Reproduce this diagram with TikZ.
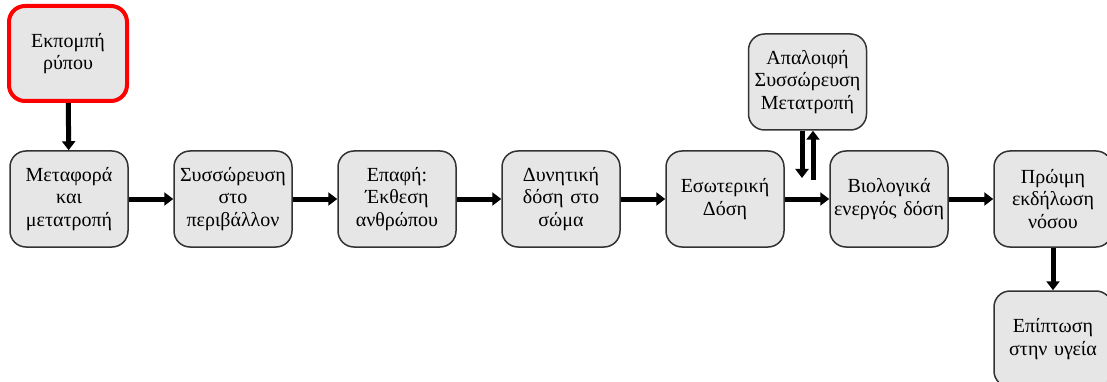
\documentclass[tikz,border=0pt]{standalone}
\usepackage{fontspec}
\setmainfont{Liberation Serif}
\usetikzlibrary{arrows.meta}
\definecolor{boxfill}{HTML}{E6E6E6}
\definecolor{boxline}{HTML}{333333}
\definecolor{alert}{HTML}{FF0000}
\begin{document}
\begin{tikzpicture}[x=1pt,y=-1pt,
  stage/.style={draw=boxline, line width=1.5pt, fill=boxfill, rounded corners=16pt,
    minimum width=118pt, minimum height=96pt, align=center, inner sep=1pt,
    text width=116pt, font=\fontsize{20}{22.5}\selectfont},
  source/.style={stage, draw=alert, line width=4pt, minimum width=116pt, minimum height=95pt},
  flow/.style={line width=5pt, -{Triangle[width=13pt,length=9pt]}}]
\useasboundingbox (0,0) rectangle (1107,382);
\clip (0,0) rectangle (1107,382);

% main chain
\node[source] (emit) at (68,53.5) {Εκπομπή\\ρύπου};
\node[stage] (b1) at (69,199) {Μεταφορά\\και\\μετατροπή};
\node[stage] (b2) at (233,199) {Συσσώρευση\\στο\\περιβάλλον};
\node[stage] (b3) at (397,199) {Επαφή:\\Έκθεση\\ανθρώπου};
\node[stage] (b4) at (561,199) {Δυνητική\\δόση στο\\σώμα};
\node[stage] (b5) at (725,199) {Εσωτερική\\Δόση};
\node[stage] (b6) at (889,199) {Βιολογικά\\ενεργός δόση};
\node[stage] (b7) at (1053,199) {Πρώιμη\\εκδήλωση\\νόσου};
\node[stage] (b8) at (1053,339) {Επίπτωση\\στην υγεία};
\node[stage] (met) at (807.5,82) {Απαλοιφή\\Συσσώρευση\\Μετατροπή};

\draw[flow] (emit) -- (b1);
\draw[flow] (b1) -- (b2);
\draw[flow] (b2) -- (b3);
\draw[flow] (b3) -- (b4);
\draw[flow] (b4) -- (b5);
\draw[flow] (b5) -- (b6);
\draw[flow] (b6) -- (b7);
\draw[flow] (b7) -- (b8);

% exchange with the metabolism box
\coordinate (downEnd) at (802,178);
\coordinate (upStart) at (813,180);
\draw[flow] (met.south -| downEnd) -- (downEnd);
\draw[flow] (upStart) -- (met.south -| upStart);
\end{tikzpicture}
\end{document}
